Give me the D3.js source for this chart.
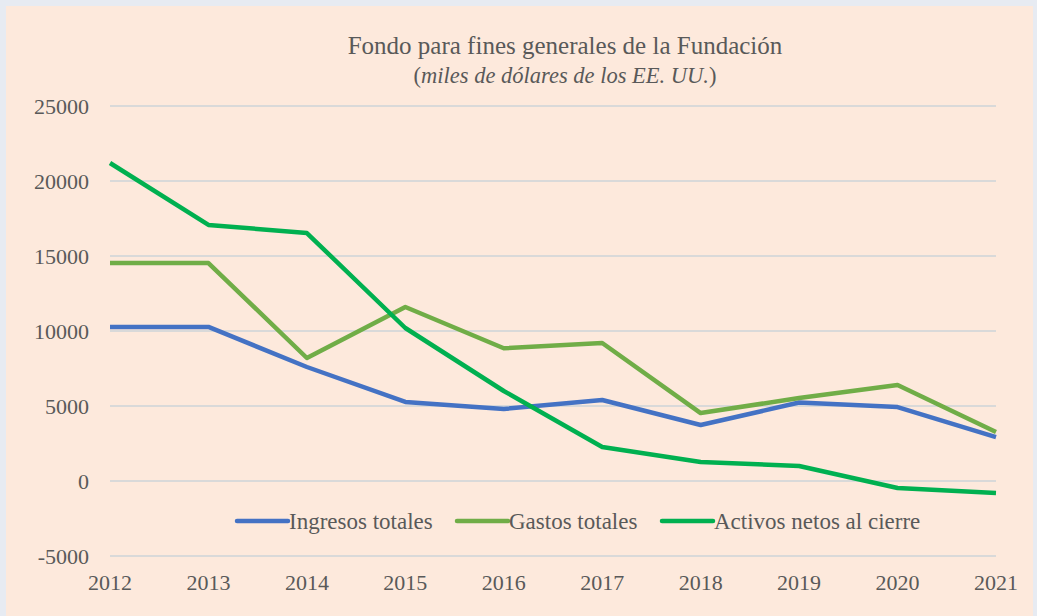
<!DOCTYPE html>
<html>
<head>
<meta charset="utf-8">
<script src="https://cdn.jsdelivr.net/npm/d3@7"></script>
<style>
  html, body { margin: 0; padding: 0; background: #e7ebf2; }
  svg { display: block; }
</style>
</head>
<body>
<svg id="chart"></svg>
<script>
// data
const years = [2012, 2013, 2014, 2015, 2016, 2017, 2018, 2019, 2020, 2021];
const ingresos = [10270, 10270, 7600, 5270, 4800, 5400, 3730, 5230, 4930, 2930];
const gastos = [14530, 14530, 8200, 11600, 8850, 9200, 4530, 5530, 6400, 3270];
const activos = [21200, 17070, 16530, 10200, 6000, 2270, 1270, 1000, -470, -800];
const yTicks = [-5000, 0, 5000, 10000, 15000, 20000, 25000];

const series = [
  { name: "Ingresos totales", values: ingresos, color: "#4472c4" },
  { name: "Gastos totales", values: gastos, color: "#70ad47" },
  { name: "Activos netos al cierre", values: activos, color: "#00b050" },
];

const width = 1037, height = 616;
const font = "'Liberation Serif', 'Times New Roman', serif";
const textColor = "#595959";

const svg = d3.select("#chart").attr("width", width).attr("height", height);

// background panel
svg.append("rect")
  .attr("x", 6).attr("y", 6)
  .attr("width", 1027).attr("height", 610)
  .attr("fill", "#fde9dc");

// scales
const x = d3.scaleLinear().domain([2012, 2021]).range([110, 996]);
const y = d3.scaleLinear().domain([-5000, 25000]).range([556, 106]);

// gridlines
svg.append("g")
  .selectAll("line")
  .data(yTicks)
  .enter()
  .append("line")
  .attr("x1", 110).attr("x2", 996)
  .attr("y1", (d) => y(d)).attr("y2", (d) => y(d))
  .attr("stroke", "#d9d9d9")
  .attr("stroke-width", 2);

// y labels
svg.append("g")
  .selectAll("text")
  .data(yTicks)
  .enter()
  .append("text")
  .attr("x", 89)
  .attr("y", (d) => y(d) + 8)
  .attr("text-anchor", "end")
  .style("font-family", font)
  .style("font-size", "22px")
  .style("fill", textColor)
  .text((d) => d);

// x labels
svg.append("g")
  .selectAll("text")
  .data(years)
  .enter()
  .append("text")
  .attr("x", (d) => x(d))
  .attr("y", 590)
  .attr("text-anchor", "middle")
  .style("font-family", font)
  .style("font-size", "22px")
  .style("fill", textColor)
  .text((d) => d);

// lines
const line = d3.line()
  .x((d, i) => x(years[i]))
  .y((d) => y(d));

svg.append("g")
  .selectAll("path")
  .data(series)
  .enter()
  .append("path")
  .attr("d", (s) => line(s.values))
  .attr("fill", "none")
  .attr("stroke", (s) => s.color)
  .attr("stroke-width", 4.5)
  .attr("stroke-linejoin", "round");

// legend
const legendX = [237, 457, 662];
const legend = svg.append("g")
  .selectAll("g")
  .data(series)
  .enter()
  .append("g")
  .attr("transform", (s, i) => "translate(" + legendX[i] + ",521)");
legend.append("line")
  .attr("x1", 0).attr("x2", 51)
  .attr("stroke", (s) => s.color)
  .attr("stroke-width", 4.5)
  .attr("stroke-linecap", "round");
legend.append("text")
  .attr("x", 52)
  .attr("y", 8)
  .style("font-family", font)
  .style("font-size", "23px")
  .style("fill", textColor)
  .text((s) => s.name);

// title
svg.append("text")
  .attr("x", 565).attr("y", 54)
  .attr("text-anchor", "middle")
  .style("font-family", font)
  .style("font-size", "25px")
  .style("fill", textColor)
  .text("Fondo para fines generales de la Fundación");

const sub = svg.append("text")
  .attr("x", 565).attr("y", 83)
  .attr("text-anchor", "middle")
  .style("font-family", font)
  .style("font-size", "22.5px")
  .style("fill", textColor);
sub.append("tspan").text("(");
sub.append("tspan").style("font-style", "italic").text("miles de dólares de los EE. UU.");
sub.append("tspan").text(")");
</script>
</body>
</html>
